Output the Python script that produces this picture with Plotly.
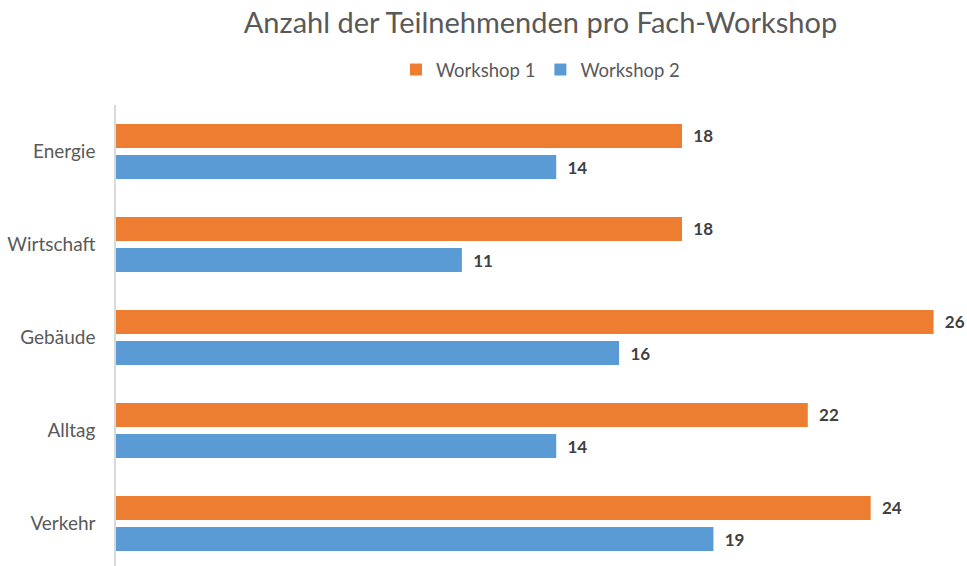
import plotly.graph_objects as go

categories = ["Energie", "Wirtschaft", "Gebäude", "Alltag", "Verkehr"]
workshop1 = [18, 18, 26, 22, 24]
workshop2 = [14, 11, 16, 14, 19]
series_names = ["Workshop 1", "Workshop 2"]

FONT = "Lato, 'Open Sans', sans-serif"
label_font = dict(family=FONT, size=17, color="#404040", weight="bold")

W, H = 967, 566

fig = go.Figure()
fig.add_trace(go.Bar(
    y=categories, x=workshop1, name=series_names[0], orientation="h",
    marker=dict(color="#ED7D31", line=dict(width=0)),
    text=workshop1, texttemplate="\u00a0\u00a0%{x}", textposition="outside",
    textfont=label_font, cliponaxis=False,
))
fig.add_trace(go.Bar(
    y=categories, x=workshop2, name=series_names[1], orientation="h",
    marker=dict(color="#5B9BD5", line=dict(width=0)),
    text=workshop2, texttemplate="\u00a0\u00a0%{x}", textposition="outside",
    textfont=label_font, cliponaxis=False,
))

fig.update_layout(
    width=W, height=H,
    paper_bgcolor="white", plot_bgcolor="white",
    margin=dict(l=116, r=2, t=105, b=0, autoexpand=False),
    barmode="group", bargap=0.333, bargroupgap=0.226,
    title=dict(text="Anzahl der Teilnehmenden pro Fach-Workshop",
               x=0.5, xref="paper", xanchor="center",
               y=1 - 23 / H, yref="container", yanchor="middle",
               font=dict(family=FONT, size=29, color="#595959")),
    legend=dict(orientation="h", x=0.5, xref="paper", xanchor="center",
                y=1 - 70 / H, yref="container", yanchor="middle",
                font=dict(family=FONT, size=18.5, color="#595959"),
                itemwidth=30, tracegroupgap=0),
    showlegend=True,
)
fig.update_xaxes(range=[0, 27], visible=False, showgrid=False, zeroline=False,
                 automargin=False)
fig.update_yaxes(range=[4.457, -0.5], showgrid=False, zeroline=False,
                 showline=True, linecolor="#D9D9D9", linewidth=1.5,
                 ticks="", ticklabelstandoff=15, automargin=False,
                 tickfont=dict(family=FONT, size=19, color="#595959"))

fig.write_html(
    "out.html",
    config={"displayModeBar": False},
    post_script="document.body.style.margin='0';document.body.style.overflow='hidden';",
)
